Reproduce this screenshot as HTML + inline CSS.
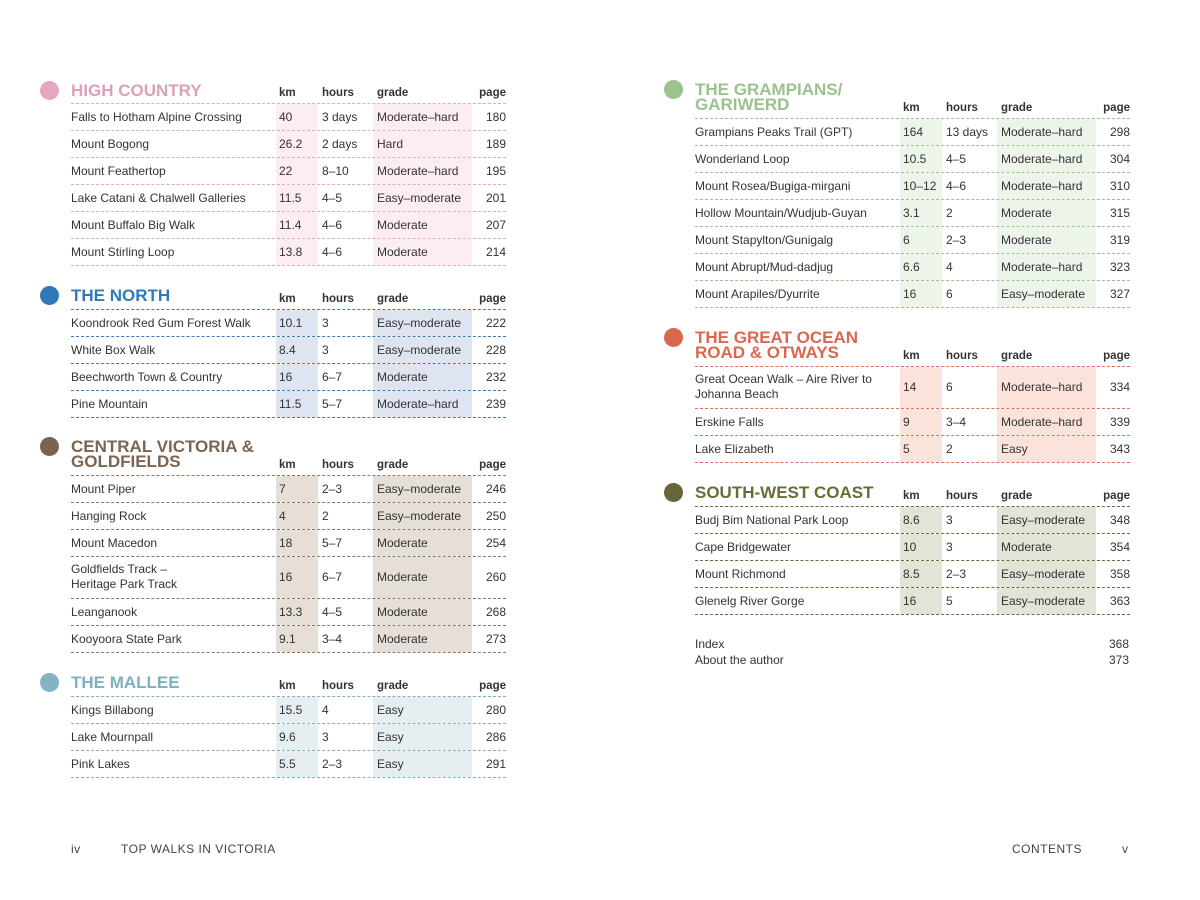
<!DOCTYPE html>
<html><head><meta charset="utf-8"><style>
body{margin:0;width:1200px;height:900px;background:#fff;position:relative;font-family:"Liberation Sans",sans-serif;color:#333;overflow:hidden}
.sec{position:absolute;width:435px}
.hd{position:relative;height:20px;border-bottom:1px dashed}
.hd span{position:absolute;top:0;line-height:20px;font-size:11.5px;font-weight:bold;color:#333}
.t{position:absolute;left:0;font-size:17px;font-weight:bold;line-height:15px;white-space:nowrap}
.dot{position:absolute;left:-31px;width:19px;height:19px;border-radius:50%}
.r{position:relative;height:26px;border-bottom:1px dashed;font-size:12px}
.r span{position:absolute;top:0;line-height:26px;white-space:nowrap}
.r .kb,.r .gb{top:0;bottom:0;}
.kb{left:205px;width:42px}
.gb{left:302px;width:99px}
.c1{left:0}.c2{left:208px}.c3{left:251px}.c4{left:306px}.c5{right:0}
.h2{height:41px}
.h2 span{line-height:41px}
.h2 .c1{line-height:15px;top:5px}
.ft{position:absolute;top:842px;font-size:12px;color:#444;letter-spacing:.5px}
</style></head><body>

<!-- HIGH COUNTRY -->
<div class="sec" style="left:71px;top:83px;border-color:#e3a9bf">
<div class="hd" style="border-color:#e3a9bf"><div class="dot" style="top:-2px;background:#e6a6c0"></div><div class="t" style="top:0px;color:#dba0ba">HIGH COUNTRY</div><span style="left:208px">km</span><span style="left:251px">hours</span><span style="left:306px">grade</span><span style="right:0">page</span></div>
<div class="r" style="border-color:#e3a9bf"><span class="kb" style="background:#fcedf1"></span><span class="gb" style="background:#fcedf1"></span><span class="c1">Falls to Hotham Alpine Crossing</span><span class="c2">40</span><span class="c3">3 days</span><span class="c4">Moderate–hard</span><span class="c5">180</span></div>
<div class="r" style="border-color:#e3a9bf"><span class="kb" style="background:#fcedf1"></span><span class="gb" style="background:#fcedf1"></span><span class="c1">Mount Bogong</span><span class="c2">26.2</span><span class="c3">2 days</span><span class="c4">Hard</span><span class="c5">189</span></div>
<div class="r" style="border-color:#e3a9bf"><span class="kb" style="background:#fcedf1"></span><span class="gb" style="background:#fcedf1"></span><span class="c1">Mount Feathertop</span><span class="c2">22</span><span class="c3">8–10</span><span class="c4">Moderate–hard</span><span class="c5">195</span></div>
<div class="r" style="border-color:#e3a9bf"><span class="kb" style="background:#fcedf1"></span><span class="gb" style="background:#fcedf1"></span><span class="c1">Lake Catani &amp; Chalwell Galleries</span><span class="c2">11.5</span><span class="c3">4–5</span><span class="c4">Easy–moderate</span><span class="c5">201</span></div>
<div class="r" style="border-color:#e3a9bf"><span class="kb" style="background:#fcedf1"></span><span class="gb" style="background:#fcedf1"></span><span class="c1">Mount Buffalo Big Walk</span><span class="c2">11.4</span><span class="c3">4–6</span><span class="c4">Moderate</span><span class="c5">207</span></div>
<div class="r" style="border-color:#e3a9bf"><span class="kb" style="background:#fcedf1"></span><span class="gb" style="background:#fcedf1"></span><span class="c1">Mount Stirling Loop</span><span class="c2">13.8</span><span class="c3">4–6</span><span class="c4">Moderate</span><span class="c5">214</span></div>
</div>

<!-- THE NORTH -->
<div class="sec" style="left:71px;top:289px">
<div class="hd" style="border-color:#3a7db8"><div class="dot" style="top:-3px;background:#2f78b8"></div><div class="t" style="top:-1px;color:#2f7ab8">THE NORTH</div><span style="left:208px">km</span><span style="left:251px">hours</span><span style="left:306px">grade</span><span style="right:0">page</span></div>
<div class="r" style="border-color:#3a7db8"><span class="kb" style="background:#dfe4f1"></span><span class="gb" style="background:#dfe4f1"></span><span class="c1">Koondrook Red Gum Forest Walk</span><span class="c2">10.1</span><span class="c3">3</span><span class="c4">Easy–moderate</span><span class="c5">222</span></div>
<div class="r" style="border-color:#3a7db8"><span class="kb" style="background:#dfe4f1"></span><span class="gb" style="background:#dfe4f1"></span><span class="c1">White Box Walk</span><span class="c2">8.4</span><span class="c3">3</span><span class="c4">Easy–moderate</span><span class="c5">228</span></div>
<div class="r" style="border-color:#3a7db8"><span class="kb" style="background:#dfe4f1"></span><span class="gb" style="background:#dfe4f1"></span><span class="c1">Beechworth Town &amp; Country</span><span class="c2">16</span><span class="c3">6–7</span><span class="c4">Moderate</span><span class="c5">232</span></div>
<div class="r" style="border-color:#3a7db8"><span class="kb" style="background:#dfe4f1"></span><span class="gb" style="background:#dfe4f1"></span><span class="c1">Pine Mountain</span><span class="c2">11.5</span><span class="c3">5–7</span><span class="c4">Moderate–hard</span><span class="c5">239</span></div>
</div>

<!-- CENTRAL -->
<div class="sec" style="left:71px;top:455px">
<div class="hd" style="border-color:#8a7767"><div class="dot" style="top:-18px;background:#7a6350"></div><div class="t" style="top:-16px;color:#7a6553">CENTRAL VICTORIA &amp;<br>GOLDFIELDS</div><span style="left:208px">km</span><span style="left:251px">hours</span><span style="left:306px">grade</span><span style="right:0">page</span></div>
<div class="r" style="border-color:#8a7767"><span class="kb" style="background:#e5dfd8"></span><span class="gb" style="background:#e5dfd8"></span><span class="c1">Mount Piper</span><span class="c2">7</span><span class="c3">2–3</span><span class="c4">Easy–moderate</span><span class="c5">246</span></div>
<div class="r" style="border-color:#8a7767"><span class="kb" style="background:#e5dfd8"></span><span class="gb" style="background:#e5dfd8"></span><span class="c1">Hanging Rock</span><span class="c2">4</span><span class="c3">2</span><span class="c4">Easy–moderate</span><span class="c5">250</span></div>
<div class="r" style="border-color:#8a7767"><span class="kb" style="background:#e5dfd8"></span><span class="gb" style="background:#e5dfd8"></span><span class="c1">Mount Macedon</span><span class="c2">18</span><span class="c3">5–7</span><span class="c4">Moderate</span><span class="c5">254</span></div>
<div class="r h2" style="border-color:#8a7767"><span class="kb" style="background:#e5dfd8"></span><span class="gb" style="background:#e5dfd8"></span><span class="c1">Goldfields Track –<br>Heritage Park Track</span><span class="c2">16</span><span class="c3">6–7</span><span class="c4">Moderate</span><span class="c5">260</span></div>
<div class="r" style="border-color:#8a7767"><span class="kb" style="background:#e5dfd8"></span><span class="gb" style="background:#e5dfd8"></span><span class="c1">Leanganook</span><span class="c2">13.3</span><span class="c3">4–5</span><span class="c4">Moderate</span><span class="c5">268</span></div>
<div class="r" style="border-color:#8a7767"><span class="kb" style="background:#e5dfd8"></span><span class="gb" style="background:#e5dfd8"></span><span class="c1">Kooyoora State Park</span><span class="c2">9.1</span><span class="c3">3–4</span><span class="c4">Moderate</span><span class="c5">273</span></div>
</div>

<!-- MALLEE -->
<div class="sec" style="left:71px;top:676px">
<div class="hd" style="border-color:#7fb0c2"><div class="dot" style="top:-3px;background:#86b3c2"></div><div class="t" style="top:-1px;color:#7eb0c0">THE MALLEE</div><span style="left:208px">km</span><span style="left:251px">hours</span><span style="left:306px">grade</span><span style="right:0">page</span></div>
<div class="r" style="border-color:#7fb0c2"><span class="kb" style="background:#e6eef2"></span><span class="gb" style="background:#e6eef2"></span><span class="c1">Kings Billabong</span><span class="c2">15.5</span><span class="c3">4</span><span class="c4">Easy</span><span class="c5">280</span></div>
<div class="r" style="border-color:#7fb0c2"><span class="kb" style="background:#e6eef2"></span><span class="gb" style="background:#e6eef2"></span><span class="c1">Lake Mournpall</span><span class="c2">9.6</span><span class="c3">3</span><span class="c4">Easy</span><span class="c5">286</span></div>
<div class="r" style="border-color:#7fb0c2"><span class="kb" style="background:#e6eef2"></span><span class="gb" style="background:#e6eef2"></span><span class="c1">Pink Lakes</span><span class="c2">5.5</span><span class="c3">2–3</span><span class="c4">Easy</span><span class="c5">291</span></div>
</div>

<!-- GRAMPIANS -->
<div class="sec" style="left:695px;top:98px">
<div class="hd" style="border-color:#9cc08f"><div class="dot" style="top:-18px;background:#9dc190"></div><div class="t" style="top:-16px;color:#9cc08f">THE GRAMPIANS/<br>GARIWERD</div><span style="left:208px">km</span><span style="left:251px">hours</span><span style="left:306px">grade</span><span style="right:0">page</span></div>
<div class="r" style="border-color:#9cc08f"><span class="kb" style="background:#edf4ea"></span><span class="gb" style="background:#edf4ea"></span><span class="c1">Grampians Peaks Trail (GPT)</span><span class="c2">164</span><span class="c3">13 days</span><span class="c4">Moderate–hard</span><span class="c5">298</span></div>
<div class="r" style="border-color:#9cc08f"><span class="kb" style="background:#edf4ea"></span><span class="gb" style="background:#edf4ea"></span><span class="c1">Wonderland Loop</span><span class="c2">10.5</span><span class="c3">4–5</span><span class="c4">Moderate–hard</span><span class="c5">304</span></div>
<div class="r" style="border-color:#9cc08f"><span class="kb" style="background:#edf4ea"></span><span class="gb" style="background:#edf4ea"></span><span class="c1">Mount Rosea/Bugiga-mirgani</span><span class="c2">10–12</span><span class="c3">4–6</span><span class="c4">Moderate–hard</span><span class="c5">310</span></div>
<div class="r" style="border-color:#9cc08f"><span class="kb" style="background:#edf4ea"></span><span class="gb" style="background:#edf4ea"></span><span class="c1">Hollow Mountain/Wudjub-Guyan</span><span class="c2">3.1</span><span class="c3">2</span><span class="c4">Moderate</span><span class="c5">315</span></div>
<div class="r" style="border-color:#9cc08f"><span class="kb" style="background:#edf4ea"></span><span class="gb" style="background:#edf4ea"></span><span class="c1">Mount Stapylton/Gunigalg</span><span class="c2">6</span><span class="c3">2–3</span><span class="c4">Moderate</span><span class="c5">319</span></div>
<div class="r" style="border-color:#9cc08f"><span class="kb" style="background:#edf4ea"></span><span class="gb" style="background:#edf4ea"></span><span class="c1">Mount Abrupt/Mud-dadjug</span><span class="c2">6.6</span><span class="c3">4</span><span class="c4">Moderate–hard</span><span class="c5">323</span></div>
<div class="r" style="border-color:#9cc08f"><span class="kb" style="background:#edf4ea"></span><span class="gb" style="background:#edf4ea"></span><span class="c1">Mount Arapiles/Dyurrite</span><span class="c2">16</span><span class="c3">6</span><span class="c4">Easy–moderate</span><span class="c5">327</span></div>
</div>

<!-- GREAT OCEAN -->
<div class="sec" style="left:695px;top:346px">
<div class="hd" style="border-color:#d9735a"><div class="dot" style="top:-18px;background:#d9694e"></div><div class="t" style="top:-16px;color:#d9694e">THE GREAT OCEAN<br>ROAD &amp; OTWAYS</div><span style="left:208px">km</span><span style="left:251px">hours</span><span style="left:306px">grade</span><span style="right:0">page</span></div>
<div class="r h2" style="border-color:#d9735a"><span class="kb" style="background:#fbe3dc"></span><span class="gb" style="background:#fbe3dc"></span><span class="c1">Great Ocean Walk – Aire River to<br>Johanna Beach</span><span class="c2">14</span><span class="c3">6</span><span class="c4">Moderate–hard</span><span class="c5">334</span></div>
<div class="r" style="border-color:#d9735a"><span class="kb" style="background:#fbe3dc"></span><span class="gb" style="background:#fbe3dc"></span><span class="c1">Erskine Falls</span><span class="c2">9</span><span class="c3">3–4</span><span class="c4">Moderate–hard</span><span class="c5">339</span></div>
<div class="r" style="border-color:#d9735a"><span class="kb" style="background:#fbe3dc"></span><span class="gb" style="background:#fbe3dc"></span><span class="c1">Lake Elizabeth</span><span class="c2">5</span><span class="c3">2</span><span class="c4">Easy</span><span class="c5">343</span></div>
</div>

<!-- SOUTH-WEST -->
<div class="sec" style="left:695px;top:486px">
<div class="hd" style="border-color:#6b6b3a"><div class="dot" style="top:-3px;background:#66663a"></div><div class="t" style="top:-1px;color:#6b6b3a">SOUTH-WEST COAST</div><span style="left:208px">km</span><span style="left:251px">hours</span><span style="left:306px">grade</span><span style="right:0">page</span></div>
<div class="r" style="border-color:#6b6b3a"><span class="kb" style="background:#e3e3d8"></span><span class="gb" style="background:#e3e3d8"></span><span class="c1">Budj Bim National Park Loop</span><span class="c2">8.6</span><span class="c3">3</span><span class="c4">Easy–moderate</span><span class="c5">348</span></div>
<div class="r" style="border-color:#6b6b3a"><span class="kb" style="background:#e3e3d8"></span><span class="gb" style="background:#e3e3d8"></span><span class="c1">Cape Bridgewater</span><span class="c2">10</span><span class="c3">3</span><span class="c4">Moderate</span><span class="c5">354</span></div>
<div class="r" style="border-color:#6b6b3a"><span class="kb" style="background:#e3e3d8"></span><span class="gb" style="background:#e3e3d8"></span><span class="c1">Mount Richmond</span><span class="c2">8.5</span><span class="c3">2–3</span><span class="c4">Easy–moderate</span><span class="c5">358</span></div>
<div class="r" style="border-color:#6b6b3a"><span class="kb" style="background:#e3e3d8"></span><span class="gb" style="background:#e3e3d8"></span><span class="c1">Glenelg River Gorge</span><span class="c2">16</span><span class="c3">5</span><span class="c4">Easy–moderate</span><span class="c5">363</span></div>
</div>

<div style="position:absolute;left:695px;top:636px;width:434px;font-size:12px;line-height:16px">
<div style="position:relative">Index<span style="position:absolute;right:0">368</span></div>
<div style="position:relative">About the author<span style="position:absolute;right:0">373</span></div>
</div>

<div class="ft" style="left:71px">iv</div>
<div class="ft" style="left:121px">TOP WALKS IN VICTORIA</div>
<div class="ft" style="left:1012px">CONTENTS</div>
<div class="ft" style="left:1122px">v</div>
</body></html>
